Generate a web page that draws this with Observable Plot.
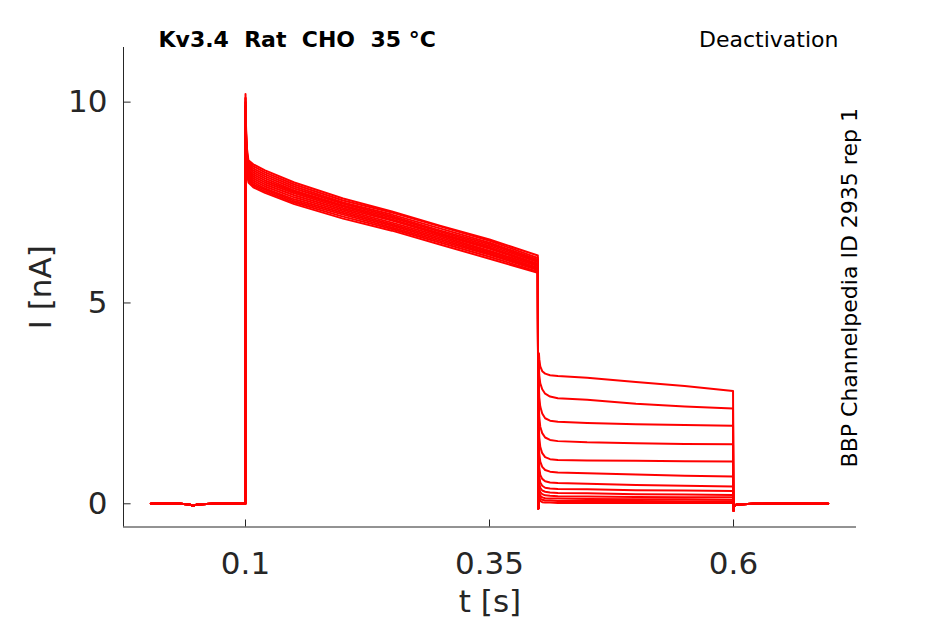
<!DOCTYPE html>
<html><head><meta charset="utf-8">
<script src="https://cdn.jsdelivr.net/npm/d3@7"></script>
<script src="https://cdn.jsdelivr.net/npm/@observablehq/plot@0.6"></script>
<style>html,body{margin:0;padding:0;background:#fff;overflow:hidden}</style>
</head><body><div id="chart"></div>
<script>
// ---- axes ----
const xDomain = [-0.025, 0.726];
const yDomain = [-0.578, 11.36];
const xTicks = [0.1, 0.35, 0.6];
const xTickLabels = ["0.1", "0.35", "0.6"];
const yTicks = [0, 5, 10];
const yTickLabels = ["0", "5", "10"];

// ---- texts ----
const title = "Kv3.4\u00a0 Rat\u00a0 CHO\u00a0 35 °C";
const protocol = "Deactivation";
const sideNote = "BBP Channelpedia ID 2935 rep 1";
const xLabel = "t [s]";
const yLabel = "I [nA]";

// ---- shared baseline before the step ----
const tBase = [0.003, 0.03, 0.043, 0.046, 0.05, 0.07, 0.0998];
const iBase = [0, 0.01, -0.02, -0.05, -0.02, 0.01, 0];

// ---- activation step (0.1 – 0.4 s), one row per sweep ----
const tAct = [0.1, 0.1004, 0.1012, 0.103, 0.108, 0.12, 0.15, 0.2, 0.25, 0.3, 0.35, 0.3995];
const act1  = [10.2, 9.5, 8.9, 8.55, 8.45, 8.3, 8.0, 7.6, 7.28, 6.92, 6.58, 6.18];
const act2  = [10.1, 9.4, 8.8, 8.5, 8.4, 8.25, 7.95, 7.55, 7.25, 6.9, 6.55, 6.12];
const act3  = [10.0, 9.35, 8.75, 8.45, 8.35, 8.2, 7.9, 7.5, 7.2, 6.85, 6.5, 6.08];
const act4  = [10.1, 9.3, 8.7, 8.4, 8.3, 8.15, 7.85, 7.47, 7.16, 6.8, 6.46, 6.05];
const act5  = [9.9, 9.3, 8.7, 8.38, 8.25, 8.1, 7.8, 7.43, 7.12, 6.77, 6.42, 6.02];
const act6  = [10.0, 9.25, 8.65, 8.33, 8.2, 8.05, 7.77, 7.4, 7.08, 6.73, 6.38, 5.98];
const act7  = [9.9, 9.2, 8.6, 8.3, 8.15, 8.0, 7.73, 7.36, 7.05, 6.7, 6.35, 5.95];
const act8  = [9.8, 9.15, 8.55, 8.25, 8.1, 7.95, 7.68, 7.32, 7.0, 6.66, 6.3, 5.92];
const act9  = [9.9, 9.1, 8.5, 8.2, 8.05, 7.9, 7.63, 7.28, 6.96, 6.62, 6.27, 5.88];
const act10 = [9.8, 9.1, 8.5, 8.15, 8.0, 7.85, 7.58, 7.24, 6.92, 6.58, 6.23, 5.85];
const act11 = [9.7, 9.05, 8.45, 8.1, 7.95, 7.82, 7.54, 7.2, 6.88, 6.54, 6.2, 5.82];
const act12 = [9.7, 9.0, 8.4, 8.05, 7.92, 7.78, 7.5, 7.15, 6.84, 6.5, 6.15, 5.78];
const act13 = [9.6, 8.95, 8.35, 8.0, 7.88, 7.74, 7.46, 7.1, 6.8, 6.45, 6.1, 5.75];

// ---- deactivation tails (0.4 – 0.6 s), one row per sweep ----
const tTail = [0.4, 0.4006, 0.401, 0.402, 0.404, 0.407, 0.412, 0.42, 0.45, 0.5, 0.55, 0.5995];
const tail1  = [-0.12, 3.75, 3.6, 3.42, 3.3, 3.24, 3.2, 3.18, 3.14, 3.03, 2.93, 2.81];
const tail2  = [-0.12, 3.4, 3.2, 3.0, 2.85, 2.74, 2.67, 2.63, 2.59, 2.49, 2.42, 2.37];
const tail3  = [-0.12, 2.9, 2.65, 2.42, 2.25, 2.13, 2.07, 2.04, 2.01, 1.98, 1.96, 1.94];
const tail4  = [-0.12, 2.4, 2.15, 1.92, 1.76, 1.65, 1.59, 1.56, 1.53, 1.51, 1.49, 1.48];
const tail5  = [-0.12, 1.9, 1.65, 1.42, 1.26, 1.16, 1.11, 1.09, 1.08, 1.07, 1.06, 1.05];
const tail6  = [-0.12, 1.5, 1.25, 1.05, 0.92, 0.84, 0.8, 0.78, 0.76, 0.73, 0.7, 0.68];
const tail7  = [-0.12, 1.1, 0.9, 0.72, 0.62, 0.56, 0.53, 0.52, 0.5, 0.47, 0.45, 0.43];
const tail8  = [-0.12, 0.85, 0.68, 0.53, 0.45, 0.4, 0.38, 0.37, 0.36, 0.34, 0.33, 0.32];
const tail9  = [-0.12, 0.65, 0.5, 0.4, 0.33, 0.3, 0.28, 0.27, 0.26, 0.24, 0.23, 0.22];
const tail10 = [-0.12, 0.5, 0.38, 0.29, 0.24, 0.21, 0.2, 0.19, 0.18, 0.17, 0.16, 0.16];
const tail11 = [-0.12, 0.38, 0.28, 0.2, 0.16, 0.14, 0.13, 0.13, 0.12, 0.11, 0.11, 0.1];
const tail12 = [-0.12, 0.28, 0.2, 0.13, 0.1, 0.08, 0.08, 0.07, 0.07, 0.07, 0.06, 0.06];
const tail13 = [-0.12, 0.18, 0.12, 0.07, 0.04, 0.03, 0.03, 0.02, 0.02, 0.02, 0.02, 0.02];

// ---- shared baseline after the tail ----
const tPost = [0.6, 0.6006, 0.603, 0.62, 0.65, 0.68, 0.697];
const iPost = [-0.17, -0.05, -0.02, 0, 0.01, 0, 0];

const actRows = [act1, act2, act3, act4, act5, act6, act7, act8, act9, act10, act11, act12, act13];
const tailRows = [tail1, tail2, tail3, tail4, tail5, tail6, tail7, tail8, tail9, tail10, tail11, tail12, tail13];

// table for the line mark
const rows = [];
actRows.forEach((act, k) => {
  const tail = tailRows[k];
  tBase.forEach((t, j) => rows.push({sweep: k, t, i: iBase[j]}));
  tAct.forEach((t, j) => rows.push({sweep: k, t, i: act[j]}));
  tTail.forEach((t, j) => rows.push({sweep: k, t, i: tail[j]}));
  tPost.forEach((t, j) => rows.push({sweep: k, t, i: iPost[j]}));
});

const axisColor = "#262626";
const font = "DejaVu Sans";

const chart = Plot.plot({
  width: 945,
  height: 624,
  marginLeft: 123,
  marginRight: 89,
  marginTop: 47,
  marginBottom: 97.5,
  x: {domain: xDomain},
  y: {domain: yDomain},
  style: {fontFamily: font, background: "white", color: axisColor},
  marks: [
    // axis lines
    Plot.ruleX([xDomain[0]], {stroke: axisColor, strokeWidth: 1}),
    Plot.ruleY([yDomain[0]], {stroke: axisColor, strokeWidth: 1}),
    // inward ticks
    Plot.ruleX(xTicks, {y1: yDomain[0], y2: yDomain[0] + 0.175, stroke: axisColor, strokeWidth: 1}),
    Plot.ruleY(yTicks, {x1: xDomain[0], x2: xDomain[0] + 0.0078, stroke: axisColor, strokeWidth: 1}),
    // tick labels
    Plot.axisX(xTicks, {tickSize: 0, tickPadding: 25, fontSize: 31, label: null,
      tickFormat: d => xTickLabels[xTicks.indexOf(d)]}),
    Plot.axisY(yTicks, {tickSize: 0, tickPadding: 16, fontSize: 31, label: null,
      tickFormat: d => yTickLabels[yTicks.indexOf(d)]}),
    // traces
    Plot.line(rows, {x: "t", y: "i", z: "sweep", stroke: "#ff0000", strokeWidth: 2, curve: "linear"}),
    // axis titles
    Plot.text([xLabel], {frameAnchor: "bottom", dy: 84.5, fontSize: 31, lineAnchor: "bottom", fill: axisColor, text: d => d}),
    Plot.text([yLabel], {frameAnchor: "left", dx: -73, rotate: -90, fontSize: 31, lineAnchor: "bottom", textAnchor: "middle", fill: axisColor, text: d => d}),
    // header texts
    Plot.text([title], {frameAnchor: "top-left", dx: 35, dy: -1, fontSize: 22, fontWeight: "bold", lineAnchor: "bottom", textAnchor: "start", fill: "black", text: d => d}),
    Plot.text([protocol], {frameAnchor: "top-right", dx: -18, dy: -1, fontSize: 22, lineAnchor: "bottom", textAnchor: "end", fill: "black", text: d => d}),
    Plot.text([sideNote], {frameAnchor: "right", dx: 0, dy: 0.5, rotate: -90, fontSize: 22, lineAnchor: "bottom", textAnchor: "middle", fill: "black", text: d => d})
  ]
});
document.getElementById("chart").appendChild(chart);
</script>
</body></html>
